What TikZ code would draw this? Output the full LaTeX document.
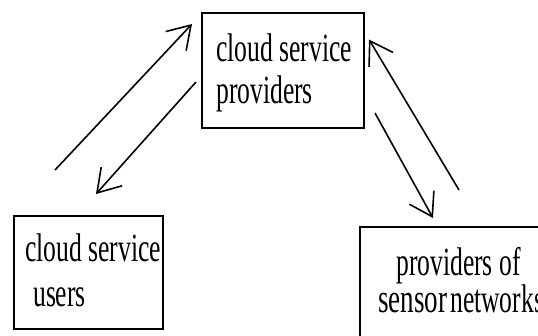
\documentclass[tikz,border=0pt]{standalone}
\usepackage{fontspec}
\setmainfont{Liberation Serif}
\newfontfamily\narrowserif[FakeStretch=0.64]{Liberation Serif}
\newfontfamily\narrowserifb[FakeStretch=0.66]{Liberation Serif}
\usetikzlibrary{arrows.meta}
\begin{document}
\begin{tikzpicture}[x=1pt,y=-1pt,
  box/.style={draw, line width=2.2pt, anchor=north west, inner sep=0pt},
  lbl/.style={anchor=base west, inner sep=0pt, font=\narrowserif\fontsize{40}{42}\selectfont},
  conn/.style={line width=1.6pt, -{Straight Barb[length=22pt,width=28pt,line width=1.6pt]}}]
\useasboundingbox (0,0) rectangle (538,335);
\clip (0,0) rectangle (538,335);
\fill[white] (0,0) rectangle (538,335);
% boxes
\node[box, minimum width=162pt, minimum height=115pt] (prov) at (201,12) {};
\node[box, minimum width=149pt, minimum height=113pt] (users) at (13,214.5) {};
\node[box, minimum width=200pt, minimum height=130pt] (sens) at (359,226) {};
% texts
\node[lbl] (p1) at (216,61) {cloud service};
\node[lbl] (p2) at (216,103) {providers};
\node[lbl] (u1) at (25,261) {cloud service};
\node[lbl] (u2) at (33,306) {users};
\node[lbl] (s1) at (396,275) {providers of};
\node[lbl, font=\narrowserifb\fontsize{41}{42}\selectfont] (s2) at (378,312) {sensor};
\node[lbl] (s3) at (450,312) {networks};
% connector ends
\coordinate (a1s) at (55,170);  \coordinate (a1e) at (192,24);
\coordinate (a2s) at (196,82);  \coordinate (a2e) at (96,194);
\coordinate (a3s) at (375,113); \coordinate (a3e) at (433,218);
\coordinate (a4s) at (459,190); \coordinate (a4e) at (369,39.5);
\draw[conn] (a1s) -- (a1e);
\draw[conn] (a2s) -- (a2e);
\draw[conn] (a3s) -- (a3e);
\draw[conn] (a4s) -- (a4e);
\end{tikzpicture}
\end{document}
